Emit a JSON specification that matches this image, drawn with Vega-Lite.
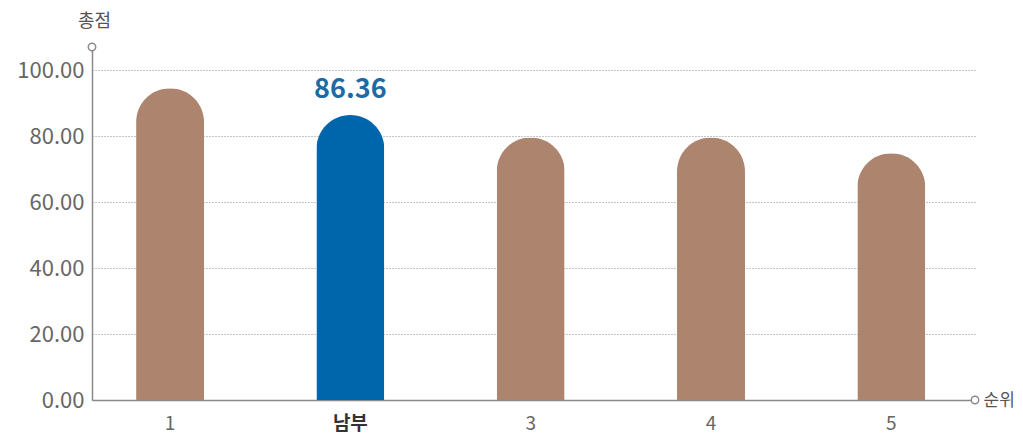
{
  "$schema": "https://vega.github.io/schema/vega-lite/v6.json",
  "width": 883,
  "height": 353,
  "autosize": {"type": "none"},
  "padding": {"left": 92, "top": 47, "right": 48, "bottom": 39},
  "background": "white",
  "config": {
    "view": {"stroke": null},
    "font": "Noto Sans CJK KR"
  },
  "layer": [
    {
      "data": {"values": [
        {"rank": "1", "score": 94.5},
        {"rank": "남부", "score": 86.36},
        {"rank": "3", "score": 79.6},
        {"rank": "4", "score": 79.6},
        {"rank": "5", "score": 74.8}
      ]},
      "layer": [
        {
          "mark": {"type": "bar", "cornerRadiusTopLeft": 34, "cornerRadiusTopRight": 34},
          "encoding": {
            "x": {
              "field": "rank", "type": "nominal", "sort": null,
              "scale": {"paddingInner": 0.623, "paddingOuter": 0.26, "align": 0.47},
              "axis": {
                "title": "순위",
                "titleX": 891, "titleY": 0, "titleAlign": "left", "titleBaseline": "middle",
                "titleAnchor": null, "titleFontSize": 17, "titleFontWeight": "normal", "titleColor": "#555",
                "labelAngle": 0, "labelFontSize": 19, "labelPadding": 14,
                "labelColor": {"condition": {"test": "datum.value === '남부'", "value": "#333"}, "value": "#666"},
                "labelFontWeight": {"condition": {"test": "datum.value === '남부'", "value": "bold"}, "value": "normal"},
                "ticks": false, "domainColor": "#8a8a8a", "domainWidth": 1.5, "grid": false
              }
            },
            "y": {
              "field": "score", "type": "quantitative",
              "scale": {"domain": [0, 107], "nice": false, "zero": true},
              "axis": {
                "title": "총점", "titleAngle": 0, "titleX": 2, "titleY": -26,
                "titleAlign": "center", "titleBaseline": "middle", "titleFontSize": 18,
                "titleFontWeight": "normal", "titleColor": "#555",
                "values": [0, 20, 40, 60, 80, 100], "format": ".2f",
                "labelFontSize": 22, "labelColor": "#666", "labelPadding": 8,
                "ticks": false, "domainColor": "#8a8a8a", "domainWidth": 1.5,
                "grid": true, "gridDash": [1, 2], "gridColor": "#8a8a8a", "gridWidth": 1
              }
            },
            "color": {
              "condition": {"test": "datum.rank === '남부'", "value": "#0066ac"},
              "value": "#ad846d"
            }
          }
        },
        {
          "transform": [{"filter": "datum.rank === '남부'"}],
          "mark": {"type": "text", "baseline": "alphabetic", "dy": -17, "fontSize": 27, "fontWeight": "bold", "color": "#1e6aa6"},
          "encoding": {
            "x": {"field": "rank", "type": "nominal", "sort": null},
            "y": {"field": "score", "type": "quantitative", "scale": {"domain": [0, 107], "nice": false}},
            "text": {"field": "score", "type": "quantitative", "format": ".2f"}
          }
        }
      ]
    },
    {
      "data": {"values": [{"cx": 0, "cy": 107}, {"cx": 1, "cy": 0}]},
      "mark": {"type": "point", "shape": "circle", "size": 55, "filled": true, "fill": "white", "stroke": "#8a8a8a", "strokeWidth": 1.5, "opacity": 1},
      "encoding": {
        "x": {"field": "cx", "type": "quantitative", "scale": {"domain": [0, 1], "nice": false}, "axis": null},
        "y": {"field": "cy", "type": "quantitative", "scale": {"domain": [0, 107], "nice": false}, "axis": null}
      }
    }
  ],
  "resolve": {"scale": {"x": "independent"}, "axis": {"x": "independent", "y": "independent"}}
}
